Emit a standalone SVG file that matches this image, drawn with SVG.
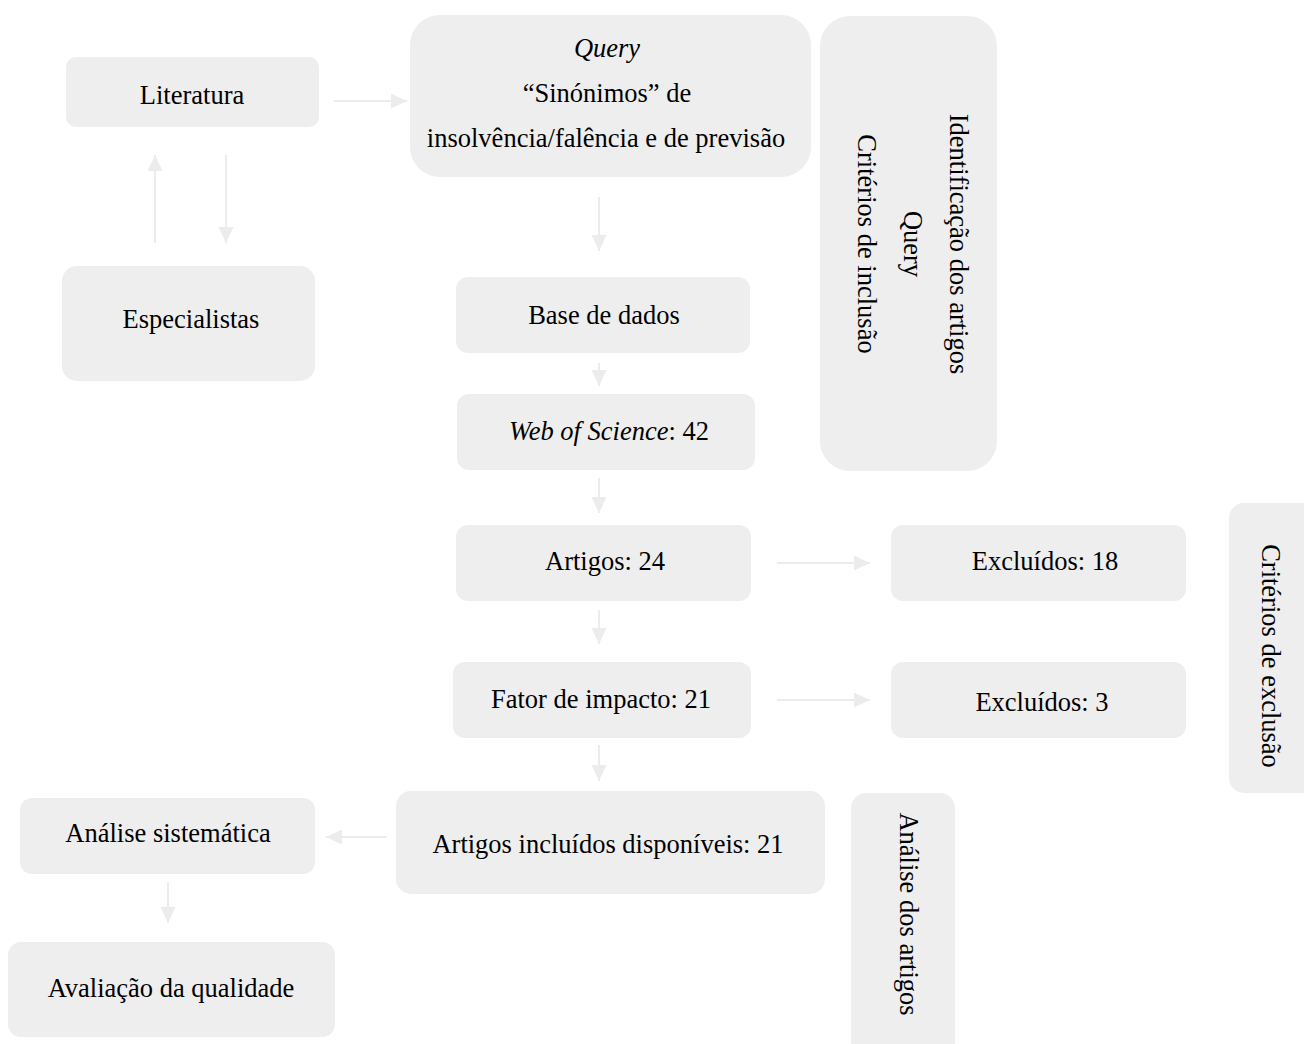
<svg xmlns="http://www.w3.org/2000/svg" width="1304" height="1044" viewBox="0 0 1304 1044">
<style>
.box{fill:#eeeeee;stroke:none}
text{font-family:"Liberation Serif","Times New Roman",serif;font-size:26.5px;fill:#000;text-anchor:middle}
.it{font-style:italic}
.conn{stroke:#ececec;stroke-width:2;fill:none;marker-end:url(#ah)}
</style>
<defs>
<marker id="ah" markerUnits="userSpaceOnUse" markerWidth="16" markerHeight="16" refX="16" refY="7.5" orient="auto">
<path d="M0,0 L16,7.5 L0,15 z" fill="#ececec"/>
</marker>
</defs>
<rect width="1304" height="1044" fill="#ffffff"/>
<g id="connectors">
<line class="conn" x1="334" y1="101" x2="407" y2="101"/>
<line class="conn" x1="155" y1="243" x2="155" y2="155"/>
<line class="conn" x1="226" y1="155" x2="226" y2="243"/>
<line class="conn" x1="599" y1="197" x2="599" y2="251"/>
<line class="conn" x1="599" y1="363" x2="599" y2="386"/>
<line class="conn" x1="599" y1="478" x2="599" y2="513"/>
<line class="conn" x1="599" y1="610" x2="599" y2="644"/>
<line class="conn" x1="599" y1="745" x2="599" y2="781"/>
<line class="conn" x1="777" y1="563" x2="870" y2="563"/>
<line class="conn" x1="777" y1="700" x2="870" y2="700"/>
<line class="conn" x1="387" y1="837" x2="326" y2="837"/>
<line class="conn" x1="168" y1="882" x2="168" y2="923"/>
</g>
<g id="literatura"><rect class="box" x="66" y="57" width="253" height="70" rx="10"/><text x="192" y="104">Literatura</text></g>
<g id="query"><rect class="box" x="410" y="15" width="401" height="162" rx="30"/>
<text x="607" y="57" class="it">Query</text>
<text x="607" y="102">“Sinónimos” de</text>
<text x="606" y="147">insolvência/falência e de previsão</text></g>
<g id="identificacao"><rect class="box" x="820" y="16" width="177" height="455" rx="30"/>
<text transform="translate(950,244) rotate(90)">Identificação dos artigos</text>
<text transform="translate(904,244) rotate(90)">Query</text>
<text transform="translate(858,244) rotate(90)">Critérios de inclusão</text></g>
<g id="especialistas"><rect class="box" x="62" y="266" width="253" height="115" rx="15"/><text x="191" y="328">Especialistas</text></g>
<g id="base"><rect class="box" x="456" y="277" width="294" height="76" rx="12"/><text x="604" y="324">Base de dados</text></g>
<g id="wos"><rect class="box" x="457" y="394" width="298" height="76" rx="12"/><text x="609" y="440"><tspan class="it">Web of Science</tspan>: 42</text></g>
<g id="artigos24"><rect class="box" x="456" y="525" width="295" height="76" rx="12"/><text x="605" y="570">Artigos: 24</text></g>
<g id="excl18"><rect class="box" x="891" y="525" width="295" height="76" rx="12"/><text x="1045" y="570">Excluídos: 18</text></g>
<g id="fator"><rect class="box" x="453" y="662" width="298" height="76" rx="12"/><text x="601" y="708">Fator de impacto: 21</text></g>
<g id="excl3"><rect class="box" x="891" y="662" width="295" height="76" rx="12"/><text x="1042" y="711">Excluídos: 3</text></g>
<g id="criterios-exclusao"><rect class="box" x="1229" y="503" width="95" height="290" rx="15"/>
<text transform="translate(1262,656) rotate(90)">Critérios de exclusão</text></g>
<g id="incluidos"><rect class="box" x="396" y="791" width="429" height="103" rx="15"/><text x="608" y="853">Artigos incluídos disponíveis: 21</text></g>
<g id="analise-artigos"><rect class="box" x="851" y="793" width="104" height="270" rx="15"/>
<text transform="translate(900,914) rotate(90)">Análise dos artigos</text></g>
<g id="analise-sistematica"><rect class="box" x="20" y="798" width="295" height="76" rx="12"/><text x="168" y="842">Análise sistemática</text></g>
<g id="avaliacao"><rect class="box" x="8" y="942" width="327" height="95" rx="13"/><text x="171" y="997">Avaliação da qualidade</text></g>
</svg>
